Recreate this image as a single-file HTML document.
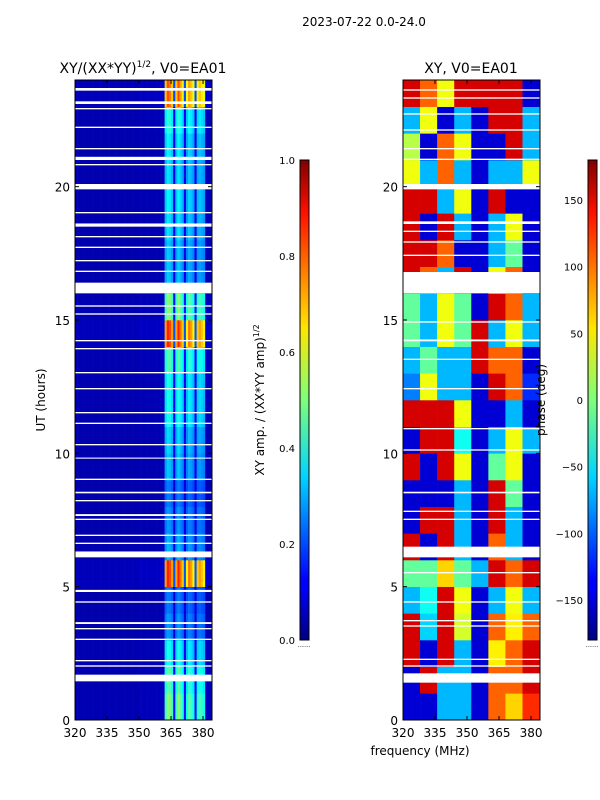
<!DOCTYPE html>
<html><head><meta charset="utf-8"><style>
html,body{margin:0;padding:0;background:#fff;width:600px;height:800px;overflow:hidden}
text{font-family:"DejaVu Sans","Liberation Sans",sans-serif;fill:#000}
</style></head><body>
<svg id="fig" width="600" height="800" xmlns="http://www.w3.org/2000/svg">
<defs>
<linearGradient id="jet" x1="0" y1="1" x2="0" y2="0">
<stop offset="0" stop-color="#00007f"/><stop offset="0.11" stop-color="#0000ff"/><stop offset="0.125" stop-color="#0000ff"/>
<stop offset="0.34" stop-color="#00d4ff"/><stop offset="0.5" stop-color="#7dff7a"/><stop offset="0.65" stop-color="#ffe600"/>
<stop offset="0.89" stop-color="#ff1000"/><stop offset="1" stop-color="#7f0000"/></linearGradient>
</defs>
<text x="364" y="26" font-size="12" text-anchor="middle">2023-07-22 0.0-24.0</text>
<text x="143" y="73" font-size="14" text-anchor="middle">XY/(XX*YY)<tspan font-size="9" dy="-6">1/2</tspan><tspan dy="6">, V0=EA01</tspan></text>
<text x="471" y="73" font-size="14" text-anchor="middle">XY, V0=EA01</text>
<g id="left"></g>
<g id="right"></g>
<g id="axes"></g>
<text transform="translate(45,400) rotate(-90)" font-size="12" text-anchor="middle">UT (hours)</text>
<text x="420" y="755" font-size="12" text-anchor="middle">frequency (MHz)</text>
<rect x="300" y="160" width="9" height="480" fill="url(#jet)" stroke="#000" stroke-width="1"/>
<rect x="588" y="160" width="9" height="480" fill="url(#jet)" stroke="#000" stroke-width="1"/>
<text transform="translate(264,400) rotate(-90)" font-size="12" text-anchor="middle">XY amp. / (XX*YY amp)<tspan font-size="8" dy="-5">1/2</tspan></text>
<text transform="translate(545,400) rotate(-90)" font-size="12" text-anchor="middle">phase (deg)</text>
<text x="304" y="649" font-size="6" fill="#999" text-anchor="middle">·······</text>
<text x="592" y="649" font-size="6" fill="#999" text-anchor="middle">·······</text>
</svg>
<script>
// ---- data ----
const freqMin = 320, freqMax = 384.2, hourMin = 0, hourMax = 24;
const xTicks = [320, 335, 350, 365, 380];
const yTicks = [0, 5, 10, 15, 20];
const ampTicks = [0.0, 0.2, 0.4, 0.6, 0.8, 1.0];
const phaseTicks = [-150, -100, -50, 0, 50, 100, 150];
// amplitude spectral profile, 1 MHz bins from 320
const ampProfile = [0.02,0.02,0.02,0.02,0.02,0.02,0.02,0.02,0.02,0.02,0.02,0.02,0.02,0.02,0.02,0.02,
 0.02,0.02,0.02,0.02,0.02,0.02,0.02,0.02,0.02,0.02,0.02,0.02,0.02,0.02,0.03,0.03,
 0.03,0.03,0.03,0.03,0.03,0.03,0.03,0.03,0.04,0.05,0.8,0.95,0.9,0.8,0.2,0.8,
 0.95,0.85,0.75,0.2,0.7,0.85,0.8,0.7,0.2,0.75,0.8,0.75,0.7,0.05,0.04,0.04];
const ampHour = [0.5,0.45,0.38,0.25,0.22,0.85,0.28,0.25,0.22,0.3,0.32,0.38,0.38,0.45,0.85,0.5,0.3,0.3,0.33,0.35,0.33,0.35,0.4,0.8];
const leftGaps = [[1.45,1.7],[2.0,2.05],[2.2,2.25],[3.0,3.05],[3.4,3.45],[3.6,3.67],[4.4,4.45],[4.8,4.88],[6.1,6.32],[6.6,6.65],[6.9,6.95],[7.5,7.55],[7.65,7.72],[8.2,8.25],[8.5,8.56],[9.0,9.05],[9.8,9.84],[10.3,10.35],[11.1,11.15],[11.5,11.55],[12.4,12.45],[13.0,13.05],[13.9,13.95],[14.2,14.25],[15.2,15.25],[15.5,15.55],[16.0,16.4],[16.8,16.85],[17.2,17.25],[17.7,17.75],[18.1,18.15],[18.5,18.62],[19.0,19.05],[19.9,20.1],[20.8,20.85],[21.0,21.12],[21.4,21.45],[22.2,22.25],[22.9,22.95],[23.1,23.2],[23.6,23.7]];
// phase (deg): 24 hourly rows x 8 freq bins of 8 MHz
const phaseRows = [
 [-150,-150,-70,-70,-150,100,60,120],
 [-150,150,-70,-70,-150,100,100,150],
 [150,-150,150,-70,-150,50,100,150],
 [150,-60,150,30,-150,100,50,100],
 [-70,-40,150,40,-150,-70,40,-70],
 [-10,-10,60,-10,-70,150,100,150],
 [150,-150,150,-70,-150,100,-70,-150],
 [-150,150,150,-70,-150,150,-70,-150],
 [-150,-150,-150,-70,-150,150,-10,-150],
 [150,-150,150,40,-150,-10,40,-150],
 [-150,150,150,-40,-150,-70,40,-70],
 [150,150,150,40,-150,-150,-70,-150],
 [-90,40,-70,-70,-150,150,100,-120],
 [-70,-10,-70,-70,150,100,100,-150],
 [-10,-70,40,-10,150,-70,40,-70],
 [-10,-70,40,-10,-150,150,100,-70],
 [150,100,-70,150,-150,40,100,-150],
 [150,150,100,-150,-150,-70,-10,-150],
 [150,-150,150,-70,-150,-70,40,-150],
 [150,150,-70,40,-150,150,-150,-150],
 [40,-70,100,-70,-150,-70,-70,40],
 [20,-150,100,40,-150,-150,150,-70],
 [-70,40,-150,-70,-150,150,150,-70],
 [150,100,40,150,150,150,150,-150]];
const phaseFreqs = [320,328,336,344,352,360,368,376,384.2];
const rightGaps = [[1.4,1.75],[2.0,2.05],[2.25,2.3],[3.5,3.55],[3.7,3.75],[4.4,4.45],[5.5,5.55],[6.1,6.5],[7.5,7.55],[7.8,7.85],[8.5,8.56],[10.1,10.15],[10.9,10.95],[12.4,12.45],[13.5,13.55],[14.2,14.27],[14.9,14.95],[16.0,16.8],[17.4,17.45],[17.9,17.95],[18.3,18.35],[18.6,18.7],[19.9,20.1],[21.0,21.05],[21.4,21.45],[22.1,22.15],[22.7,22.75],[23.3,23.35],[23.6,23.65]];

// ---- helpers ----
const NS = "http://www.w3.org/2000/svg";
function jet(v){v=Math.max(0,Math.min(1,v));
 const r=Math.min(4*v-1.5,-4*v+4.5),g=Math.min(4*v-0.5,-4*v+3.5),b=Math.min(4*v+0.5,-4*v+2.5);
 const c=x=>Math.round(255*Math.max(0,Math.min(1,x)));return `rgb(${c(r)},${c(g)},${c(b)})`;}
function mk(tag,attrs,parent){const e=document.createElementNS(NS,tag);for(const k in attrs)e.setAttribute(k,attrs[k]);parent.appendChild(e);return e;}
function panel(x0){return {x:f=>x0+(f-freqMin)/(freqMax-freqMin)*137, y:h=>720-(h-hourMin)/(hourMax-hourMin)*640, x0};}
const L = panel(75), R = panel(403);
const gl = document.getElementById('left'), gr = document.getElementById('right'), ga = document.getElementById('axes');

for(let h=0;h<ampHour.length;h++){
 for(let f=0;f<ampProfile.length;f++){
  const v=0.04+ampProfile[f]*ampHour[h];
  const xa=L.x(freqMin+f), xb=L.x(Math.min(freqMax,freqMin+f+1)), ya=L.y(h+1), yb=L.y(h);
  const r=mk('rect',{x:xa,y:ya,width:xb-xa+0.3,height:yb-ya+0.3,fill:jet(v)},gl);
  
  
 }
}
for(const g of leftGaps){
 const r=mk('rect',{x:75,y:L.y(g[1]),width:137,height:L.y(g[0])-L.y(g[1]),fill:'#fff'},gl);
 
 
}
for(let h=0;h<phaseRows.length;h++){
 for(let f=0;f<phaseRows[h].length;f++){
  const v=(phaseRows[h][f]+180)/360;
  const xa=R.x(phaseFreqs[f]), xb=R.x(phaseFreqs[f+1]), ya=R.y(h+1), yb=R.y(h);
  const r=mk('rect',{x:xa,y:ya,width:xb-xa+0.3,height:yb-ya+0.3,fill:jet(v)},gr);
  
  
 }
}
for(const g of rightGaps){
 const r=mk('rect',{x:403,y:R.y(g[1]),width:137,height:R.y(g[0])-R.y(g[1]),fill:'#fff'},gr);
 
 
}
for(const P of [L,R]){
 const fr=mk('rect',{x:P.x0,y:80,width:137,height:640,fill:'none',stroke:'#000','stroke-width':1},ga);
 
 
 for(const t of xTicks){const x=P.x(t);
  mk('line',{x1:x,x2:x,y1:720,y2:716,stroke:'#000'},ga);mk('line',{x1:x,x2:x,y1:80,y2:84,stroke:'#000'},ga);
  const tx=mk('text',{x:x,y:737,'font-size':12,'text-anchor':'middle'},ga);tx.textContent=t;
  
  
 }
 for(const t of yTicks){const y=P.y(t);
  mk('line',{x1:P.x0,x2:P.x0+4,y1:y,y2:y,stroke:'#000'},ga);mk('line',{x1:P.x0+133,x2:P.x0+137,y1:y,y2:y,stroke:'#000'},ga);
  const tx=mk('text',{x:P.x0-5,y:y+5,'font-size':12,'text-anchor':'end'},ga);tx.textContent=t;
  
  
 }
}
for(const t of ampTicks){const y=640-t*480;
 mk('line',{x1:300,x2:309,y1:y,y2:y,stroke:'#000'},ga);
 const tx=mk('text',{x:295,y:y+4,'font-size':10,'text-anchor':'end'},ga);tx.textContent=t.toFixed(1);
 
 
}
for(const t of phaseTicks){const y=640-(t+180)/360*480;
 mk('line',{x1:588,x2:597,y1:y,y2:y,stroke:'#000'},ga);
 const tx=mk('text',{x:583,y:y+4,'font-size':10,'text-anchor':'end'},ga);tx.textContent=(t<0?'\u2212'+(-t):t);
 
 
}
</script>
</body></html>
